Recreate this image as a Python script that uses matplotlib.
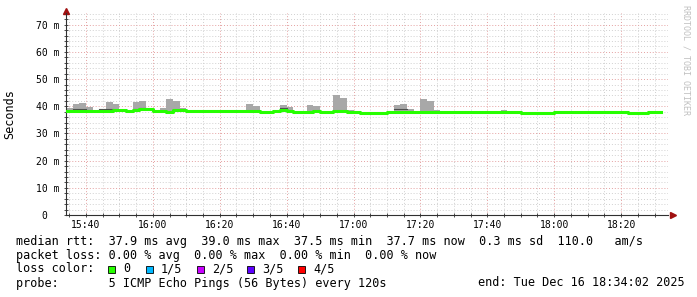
import numpy as np
import pandas as pd
import matplotlib
matplotlib.use("Agg")
import matplotlib.pyplot as plt
import matplotlib.dates as mdates
from matplotlib.patches import Rectangle
from matplotlib.ticker import FuncFormatter, MultipleLocator

# data: one value per 2 minute step, 15:34 .. 18:32
start = "2025-12-16 15:34:00"
view_start = "2025-12-16 15:34:02"
view_end = "2025-12-16 18:34:02"

median_ms = [
    38.4, 38.4, 38.4, 38.4, 38.3, 38.4, 38.4, 38.75, 38.75, 38.35,
    38.7, 39.0, 39.0, 38.4, 38.4, 37.95, 38.55, 38.55, 38.35, 38.35,
    38.35, 38.35, 38.35, 38.35, 38.35, 38.35, 38.35, 38.35, 38.35, 37.95,
    37.95, 38.35, 38.5, 38.35, 37.95, 37.95, 37.95, 38.3, 37.95, 37.95,
    38.35, 38.35, 38.0, 37.95, 37.65, 37.65, 37.65, 37.65, 37.8, 37.9,
    37.9, 37.9, 37.9, 37.9, 37.9, 37.9, 37.8, 37.8, 37.75, 37.75,
    37.75, 37.75, 37.75, 37.75, 37.75, 37.9, 37.9, 37.75, 37.65, 37.65,
    37.65, 37.65, 37.65, 37.9, 37.9, 37.9, 37.9, 37.9, 37.9, 37.9,
    37.9, 37.9, 37.9, 37.9, 37.65, 37.65, 37.65, 37.9, 37.9,
]

# top of the grey smoke (None = no smoke visible)
smoke_top_ms = [
    39.4, 40.85, 41.3, 39.75, None, 39.0, 41.6, 40.85, None, None,
    41.6, 42.05, None, None, 39.4, 42.8, 42.05, 39.4, None, None,
    None, None, None, None, None, None, None, 40.85, 40.1, None,
    None, None, 40.5, 39.75, None, None, 40.5, 40.1, None, None,
    44.2, 43.1, 38.6, None, None, None, None, None, None, 40.6,
    40.95, 39.0, None, 42.6, 41.9, 38.7, None, None, 38.4, 38.4,
    38.4, None, None, None, None, 38.75, None, None, None, None,
    None, None, None, 38.3, 38.3, None, None, 38.2, 38.2, None,
    None, None, None, None, None, None, None, None, None,
]

# darker smoke band just above the median
smoke_dark_ms = [
    None, 38.85, 38.85, None, None, 38.9, 38.9, None, None, None,
    39.1, 39.2, None, None, None, None, None, None, None, None,
    None, None, None, None, None, None, None, None, None, None,
    None, None, 39.2, None, None, None, None, None, None, None,
    None, None, None, None, None, None, None, None, None, 38.9,
    38.9, None, None, None, None, None, None, None, None, None,
    None, None, None, None, None, None, None, None, None, None,
    None, None, None, None, None, None, None, None, None, None,
    None, None, None, None, None, None, None, None, None,
]

loss_labels = ["0", "1/5", "2/5", "3/5", "4/5"]
loss_colors = ["#26ff00", "#00b8ff", "#c800ff", "#5e00ff", "#ff0000"]

plt.rcParams["font.family"] = "DejaVu Sans Mono"

W, H = 697, 297
fig = plt.figure(figsize=(W / 100, H / 100), dpi=100)
fig.patch.set_facecolor("white")
ax = fig.add_axes([66 / W, (H - 215) / H, 602 / W, (215 - 13) / H])

edges = pd.date_range(start, periods=len(median_ms) + 1, freq="2min")
x = mdates.date2num(edges.to_pydatetime())

med = np.array(median_ms, dtype=float)
top = np.array([m if t is None else t for t, m in zip(smoke_top_ms, median_ms)], dtype=float)
low = np.where(top > med, med - 0.25, med)
dark = np.array([np.nan if d is None else d for d in smoke_dark_ms], dtype=float)

ext = lambda a: np.append(a, a[-1])

ax.fill_between(x, ext(low), ext(top), step="post", color="#a8a8a8", lw=0, zorder=2)
ax.step(x, ext(dark), where="post", color="#505050", lw=0.8, zorder=3)
ax.step(x, ext(med), where="post", color="#26ff00", lw=2.2, zorder=4)

ax.set_xlim(mdates.date2num(pd.Timestamp(view_start)), mdates.date2num(pd.Timestamp(view_end)))
ax.set_ylim(0, 74.3)

ax.xaxis.set_major_locator(mdates.MinuteLocator(byminute=[0, 20, 40]))
ax.xaxis.set_minor_locator(mdates.MinuteLocator(byminute=range(0, 60, 5)))
ax.xaxis.set_major_formatter(mdates.DateFormatter("%H:%M"))
ax.yaxis.set_major_locator(MultipleLocator(10))
ax.yaxis.set_minor_locator(MultipleLocator(2))
ax.yaxis.set_major_formatter(FuncFormatter(lambda v, p: "0  " if v == 0 else f"{v:.0f} m"))

ax.set_axisbelow(True)
ax.grid(which="minor", color="#d0d0d0", linestyle=(0, (1, 2)), lw=0.7)
ax.grid(which="major", color="#e4a0a0", linestyle=(0, (1, 2)), lw=0.7)

for s in ["top", "right"]:
    ax.spines[s].set_visible(False)
for s in ["left", "bottom"]:
    ax.spines[s].set_color("#303030")
    ax.spines[s].set_linewidth(0.8)

ax.tick_params(which="both", direction="inout", length=3, width=0.6, color="#303030")
ax.tick_params(axis="x", labelsize=7, pad=2)
ax.tick_params(axis="y", labelsize=7, pad=3)

# arrows on the axes
ax.plot([1.008], [0], marker=">", color="#a01010", ms=4, transform=ax.transAxes, clip_on=False)
ax.plot([0], [1.012], marker="^", color="#a01010", ms=4, transform=ax.transAxes, clip_on=False)

fig.text(10 / W, 1 - 114 / H, "Seconds", rotation=90, ha="center", va="center", fontsize=8.5)
fig.text(686 / W, 1 - 60 / H, "RRDTOOL / TOBI OETIKER", rotation=270, ha="center", va="center",
         fontsize=6, color="#c0c0c0")

fs = 8.5
fig.text(16 / W, 1 - 241 / H,
         "median rtt:  37.9 ms avg  39.0 ms max  37.5 ms min  37.7 ms now  0.3 ms sd  110.0   am/s",
         va="center", fontsize=fs)
fig.text(16 / W, 1 - 255 / H, "packet loss: 0.00 % avg  0.00 % max  0.00 % min  0.00 % now",
         va="center", fontsize=fs)
fig.text(16 / W, 1 - 269 / H, "loss color:", va="center", fontsize=fs)
box_x = [108, 146, 197, 247, 298]
for bx, lab, col in zip(box_x, loss_labels, loss_colors):
    fig.patches.append(Rectangle((bx / W, 1 - 272.5 / H), 7 / W, 7 / H, transform=fig.transFigure,
                                 facecolor=col, edgecolor="black", lw=0.6))
    fig.text((bx + 15) / W, 1 - 269 / H, lab, va="center", fontsize=fs)
fig.text(16 / W, 1 - 283 / H, "probe:       5 ICMP Echo Pings (56 Bytes) every 120s",
         va="center", fontsize=fs)
fig.text(478 / W, 1 - 283 / H, "end: Tue Dec 16 18:34:02 2025", va="center", fontsize=fs)

fig.savefig("out.png", dpi=100)
